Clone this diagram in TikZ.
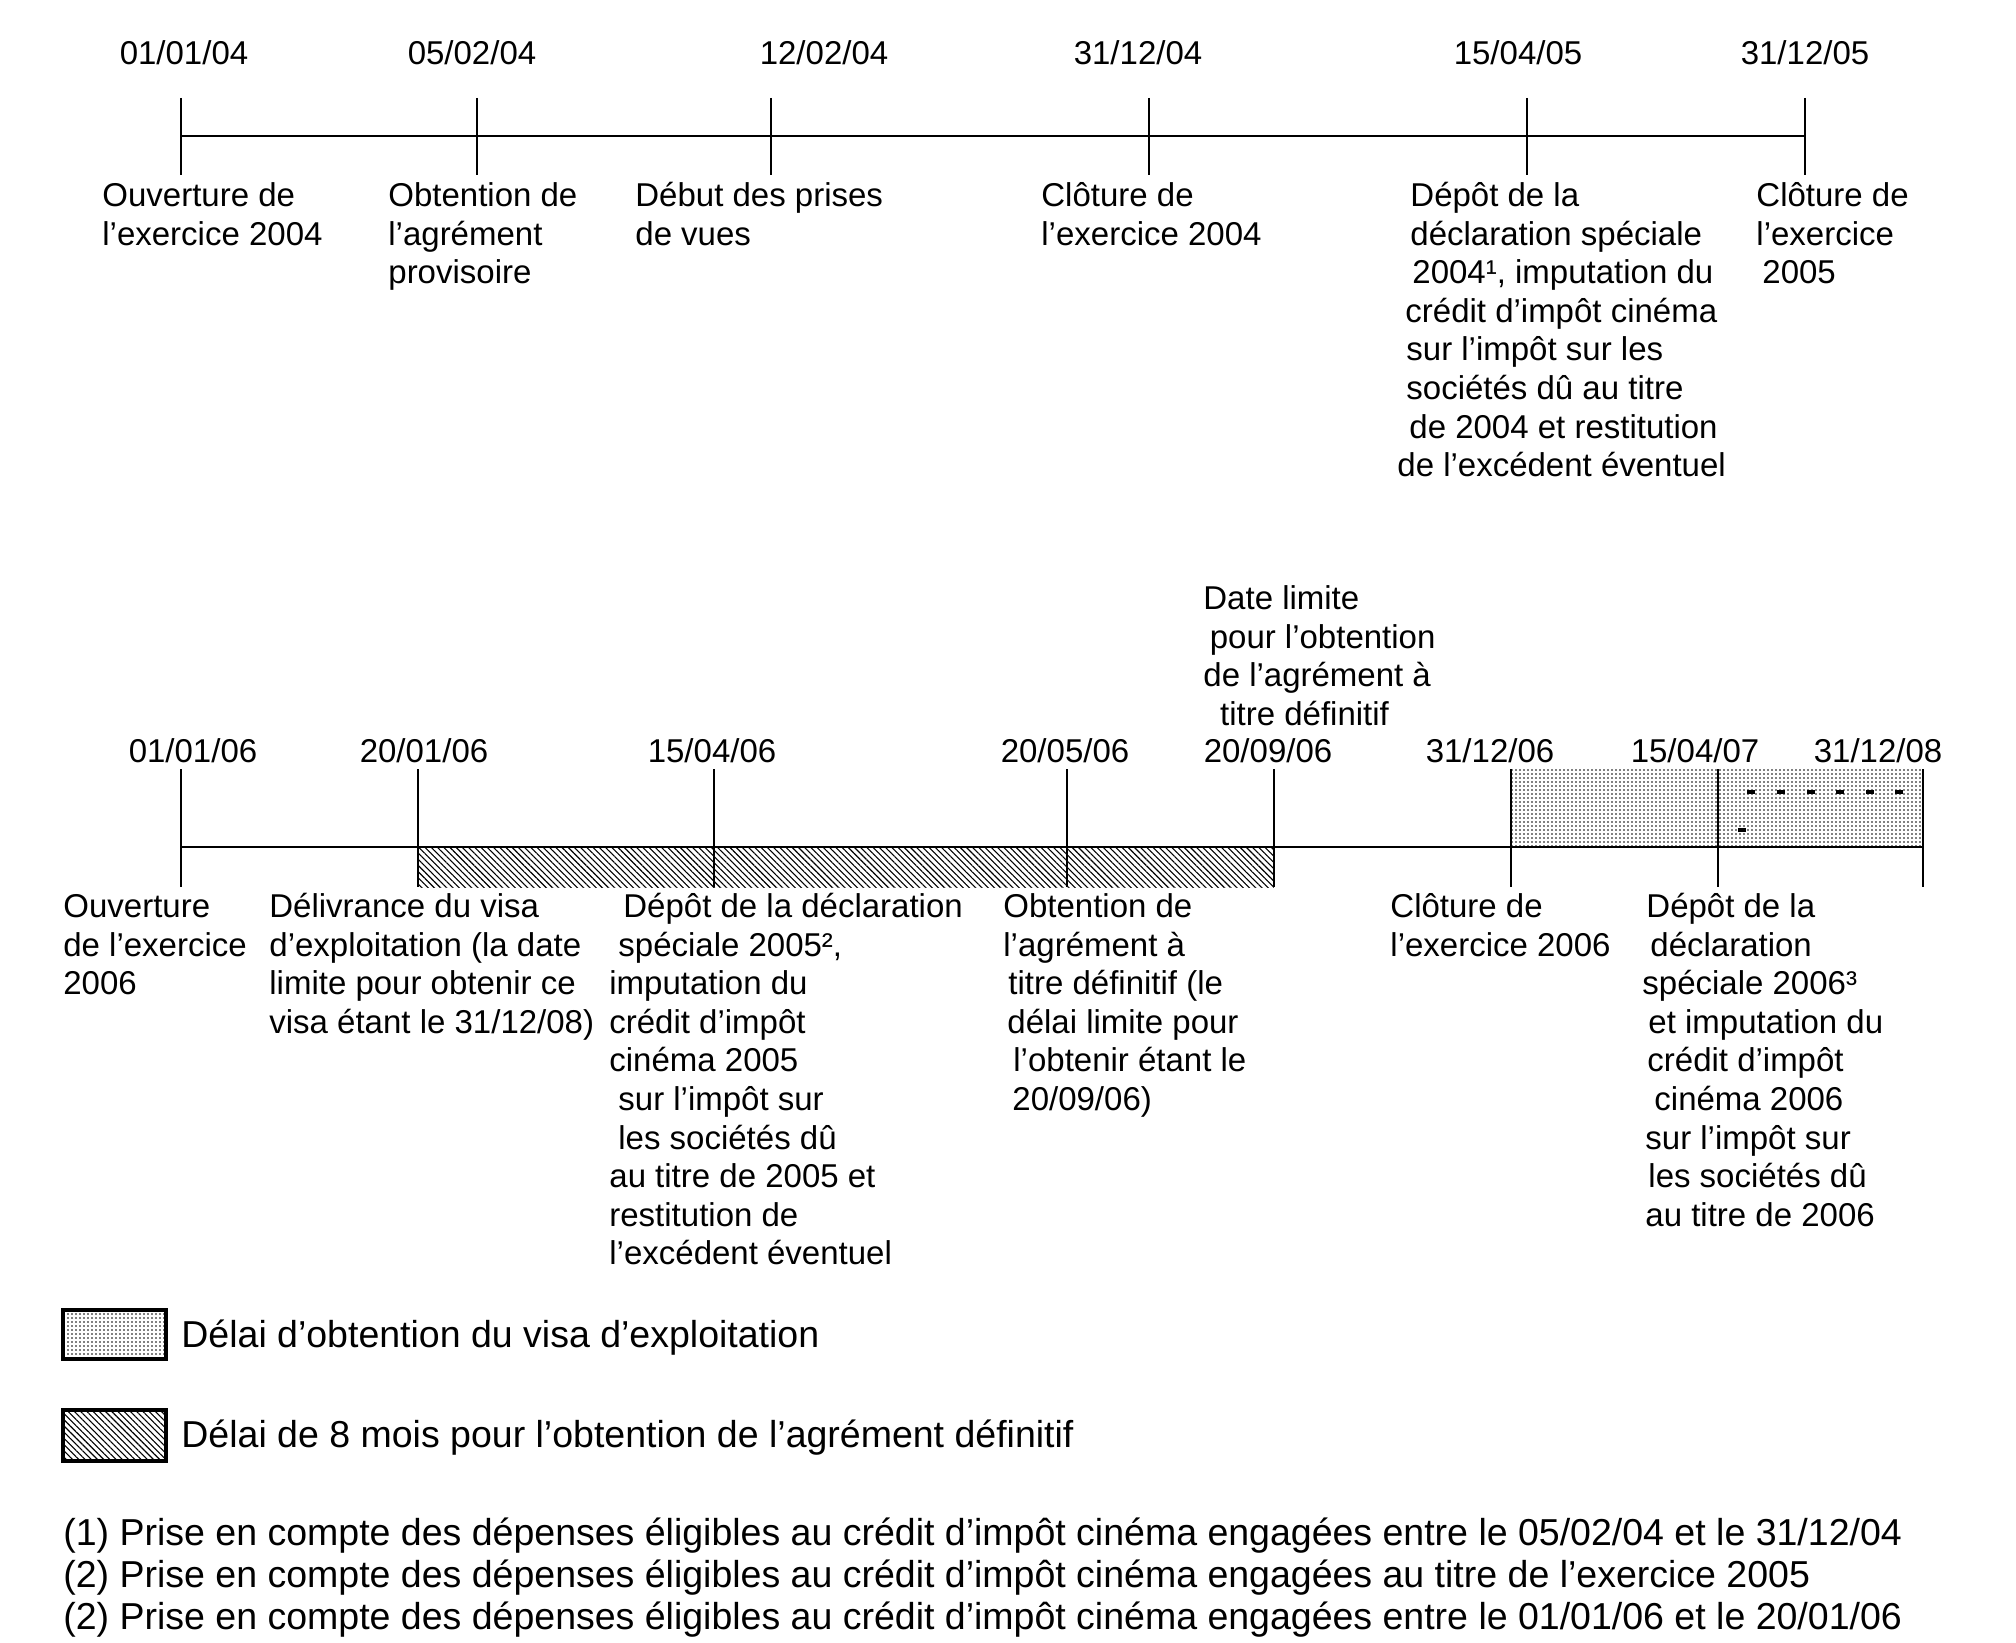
\documentclass[tikz,border=0pt]{standalone}
\usepackage{fontspec}
\setmainfont{Liberation Sans}
\usetikzlibrary{patterns.meta}
\begin{document}
\begin{tikzpicture}[x=0.5pt,y=-0.5pt,
  lbl/.style={font=\fontsize{16.5}{19.3}\selectfont, inner sep=0pt, align=left, anchor=north west},
  dt/.style={font=\fontsize{16.5}{19.3}\selectfont, inner sep=0pt, anchor=base},
  big/.style={font=\fontsize{18.75}{21.2}\selectfont, inner sep=0pt, anchor=base west},
  axisline/.style={line width=1.4pt},
  tickline/.style={line width=1pt},
  hatchfill/.style={pattern={Lines[angle=-45,distance=2.2pt,line width=0.55pt]}},
  dotfill/.style={pattern={Dots[distance=2pt,radius=0.42pt]}},
  legbox/.style={line width=1.6pt},
  dashmark/.style={line width=2pt},
]
\useasboundingbox (0,0) rectangle (2016,1642);

% ---------------- top timeline ----------------
\coordinate (a0) at (181,136);
\coordinate (a5) at (1805,136);
\draw[axisline] (a0) -- (a5);
\foreach \x/\n in {181/1,477/2,771/3,1149/4,1527/5,1805/6}{
  \coordinate (ta\n) at (\x,98);
  \coordinate (ba\n) at (\x,175);
  \draw[tickline] (ta\n) -- (ba\n);
}
\node[dt] (d1) at (184,65) {01/01/04};
\node[dt] (d2) at (472,65) {05/02/04};
\node[dt] (d3) at (824,65) {12/02/04};
\node[dt] (d4) at (1138,65) {31/12/04};
\node[dt] (d5) at (1518,65) {15/04/05};
\node[dt] (d6) at (1805,65) {31/12/05};

\node[lbl] (l1) at (102,179) {\strut Ouverture de\\l’exercice 2004};
\node[lbl] (l2) at (388,179) {\strut Obtention de\\l’agrément\\provisoire};
\node[lbl] (l3) at (635,179) {\strut Début des prises\\de vues};
\node[lbl] (l4) at (1041,179) {\strut Clôture de\\l’exercice 2004};
\node[lbl] (l5) at (1397,179) {\strut\hspace*{6.5pt}Dépôt de la\\\hspace*{6.5pt}déclaration spéciale\\\hspace*{7.5pt}2004¹, imputation du\\\hspace*{4pt}crédit d’impôt cinéma\\\hspace*{4.5pt}sur l’impôt sur les\\\hspace*{4.5pt}sociétés dû au titre\\\hspace*{6pt}de 2004 et restitution\\de l’excédent éventuel};
\node[lbl] (l6) at (1756,179) {\strut Clôture de\\l’exercice\\\hspace*{3pt}2005};

% ---------------- bottom timeline ----------------
\fill[hatchfill] (418,847) rectangle (1274,887);
\fill[dotfill] (1511,769) rectangle (1923,847);
\foreach \x in {1747,1777,1807,1836,1866,1895}{
  \draw[dashmark] (\x,792) -- ++(8,0);
}
\draw[dashmark] (1738,830) -- ++(8,0);

\coordinate (b0) at (181,847);
\coordinate (b7) at (1923,847);
\draw[axisline] (b0) -- (b7);
\foreach \x/\n in {181/1,418/2,714/3,1067/4,1274/5,1511/6,1718/7,1923/8}{
  \coordinate (tb\n) at (\x,769);
  \coordinate (bb\n) at (\x,887);
  \draw[tickline] (tb\n) -- (bb\n);
}
\node[dt] (e1) at (193,762) {01/01/06};
\node[dt] (e2) at (424,762) {20/01/06};
\node[dt] (e3) at (712,762) {15/04/06};
\node[dt] (e4) at (1065,762) {20/05/06};
\node[dt] (e5) at (1268,762) {20/09/06};
\node[dt] (e6) at (1490,762) {31/12/06};
\node[dt] (e7) at (1695,762) {15/04/07};
\node[dt] (e8) at (1878,762) {31/12/08};

\node[lbl] (dl) at (1203,582) {\strut Date limite\\\hspace*{3.2pt}pour l’obtention\\de l’agrément à\\\hspace*{8.4pt}titre définitif};

\node[lbl] (m1) at (63,890) {\strut Ouverture\\de l’exercice\\2006};
\node[lbl] (m2) at (269,890) {\strut Délivrance du visa\\d’exploitation (la date\\limite pour obtenir ce\\visa étant le 31/12/08)};
\node[lbl] (m3) at (609,890) {\strut\hspace*{7pt}Dépôt de la déclaration\\\hspace*{4.5pt}spéciale 2005²,\\imputation du\\crédit d’impôt\\cinéma 2005\\\hspace*{4.5pt}sur l’impôt sur\\\hspace*{4.5pt}les sociétés dû\\au titre de 2005 et\\restitution de\\l’excédent éventuel};
\node[lbl] (m4) at (1003,890) {\strut Obtention de\\l’agrément à\\\hspace*{2.5pt}titre définitif (le\\\hspace*{2pt}délai limite pour\\\hspace*{5pt}l’obtenir étant le\\\hspace*{4.5pt}20/09/06)};
\node[lbl] (m5) at (1390,890) {\strut Clôture de\\l’exercice 2006};
\node[lbl] (m6) at (1642,890) {\strut\hspace*{2pt}Dépôt de la\\\hspace*{4pt}déclaration\\spéciale 2006³\\\hspace*{3pt}et imputation du\\\hspace*{2.5pt}crédit d’impôt\\\hspace*{6pt}cinéma 2006\\\hspace*{1.5pt}sur l’impôt sur\\\hspace*{3pt}les sociétés dû\\\hspace*{1.5pt}au titre de 2006};

% ---------------- legend ----------------
\draw[legbox, dotfill] (63,1310) rectangle (166,1359);
\node[big] (g1) at (181,1347) {Délai d’obtention du visa d’exploitation};
\draw[legbox, hatchfill] (63,1410) rectangle (166,1461);
\node[big] (g2) at (181,1447) {Délai de 8 mois pour l’obtention de l’agrément définitif};

\node[big] (f1) at (63,1545) {(1) Prise en compte des dépenses éligibles au crédit d’impôt cinéma engagées entre le 05/02/04 et le 31/12/04};
\node[big] (f2) at (63,1587) {(2) Prise en compte des dépenses éligibles au crédit d’impôt cinéma engagées au titre de l’exercice 2005};
\node[big] (f3) at (63,1629) {(2) Prise en compte des dépenses éligibles au crédit d’impôt cinéma engagées entre le 01/01/06 et le 20/01/06};
\end{tikzpicture}
\end{document}
